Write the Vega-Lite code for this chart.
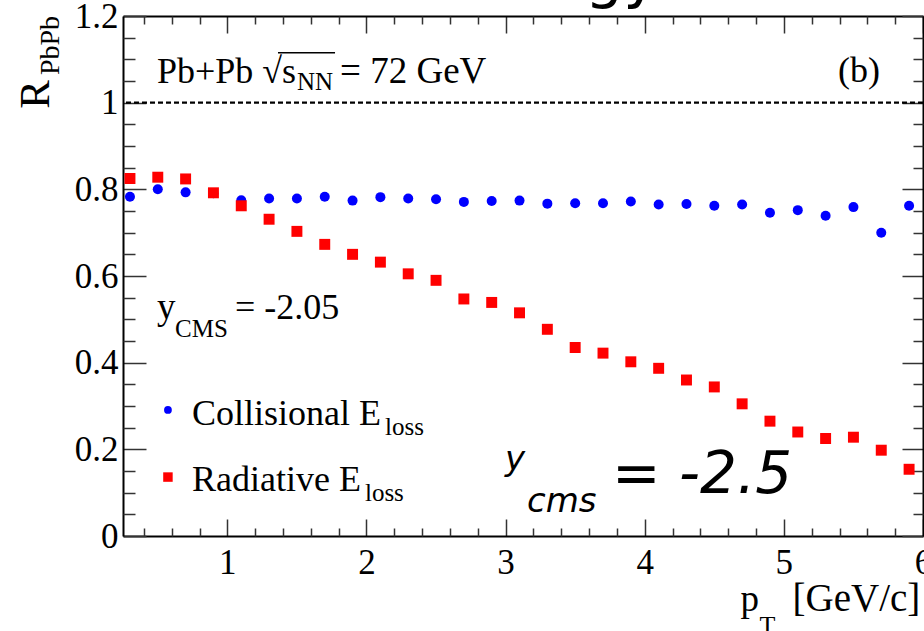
{
  "$schema": "https://vega.github.io/schema/vega-lite/v6.json",
  "width": 800,
  "height": 520,
  "autosize": "none",
  "padding": {"left": 123, "top": 16, "right": 1, "bottom": 95},
  "background": "white",
  "config": {
    "view": {"stroke": null},
    "font": "Liberation Serif",
    "axis": {
      "grid": false,
      "labelFont": "Liberation Serif",
      "labelFontSize": 35,
      "labelColor": "black",
      "labelFlush": false,
      "labelOverlap": false,
      "tickColor": "#333",
      "tickWidth": 1.5,
      "domainColor": "black",
      "domainWidth": 2,
      "titleFont": "Liberation Serif",
      "titleColor": "black",
      "titleFontWeight": "normal",
      "titleBaseline": "alphabetic"
    }
  },
  "datasets": {
    "pts": [
      {"pt": 0.3, "R": 0.783, "series": "Collisional"},
      {"pt": 0.5, "R": 0.800, "series": "Collisional"},
      {"pt": 0.7, "R": 0.793, "series": "Collisional"},
      {"pt": 0.9, "R": 0.791, "series": "Collisional"},
      {"pt": 1.1, "R": 0.775, "series": "Collisional"},
      {"pt": 1.3, "R": 0.779, "series": "Collisional"},
      {"pt": 1.5, "R": 0.779, "series": "Collisional"},
      {"pt": 1.7, "R": 0.783, "series": "Collisional"},
      {"pt": 1.9, "R": 0.774, "series": "Collisional"},
      {"pt": 2.1, "R": 0.782, "series": "Collisional"},
      {"pt": 2.3, "R": 0.779, "series": "Collisional"},
      {"pt": 2.5, "R": 0.777, "series": "Collisional"},
      {"pt": 2.7, "R": 0.771, "series": "Collisional"},
      {"pt": 2.9, "R": 0.773, "series": "Collisional"},
      {"pt": 3.1, "R": 0.774, "series": "Collisional"},
      {"pt": 3.3, "R": 0.767, "series": "Collisional"},
      {"pt": 3.5, "R": 0.768, "series": "Collisional"},
      {"pt": 3.7, "R": 0.768, "series": "Collisional"},
      {"pt": 3.9, "R": 0.772, "series": "Collisional"},
      {"pt": 4.1, "R": 0.765, "series": "Collisional"},
      {"pt": 4.3, "R": 0.766, "series": "Collisional"},
      {"pt": 4.5, "R": 0.762, "series": "Collisional"},
      {"pt": 4.7, "R": 0.765, "series": "Collisional"},
      {"pt": 4.9, "R": 0.746, "series": "Collisional"},
      {"pt": 5.1, "R": 0.752, "series": "Collisional"},
      {"pt": 5.3, "R": 0.739, "series": "Collisional"},
      {"pt": 5.5, "R": 0.759, "series": "Collisional"},
      {"pt": 5.7, "R": 0.700, "series": "Collisional"},
      {"pt": 5.9, "R": 0.762, "series": "Collisional"},
      {"pt": 0.3, "R": 0.825, "series": "Radiative"},
      {"pt": 0.5, "R": 0.828, "series": "Radiative"},
      {"pt": 0.7, "R": 0.824, "series": "Radiative"},
      {"pt": 0.9, "R": 0.792, "series": "Radiative"},
      {"pt": 1.1, "R": 0.762, "series": "Radiative"},
      {"pt": 1.3, "R": 0.731, "series": "Radiative"},
      {"pt": 1.5, "R": 0.703, "series": "Radiative"},
      {"pt": 1.7, "R": 0.673, "series": "Radiative"},
      {"pt": 1.9, "R": 0.650, "series": "Radiative"},
      {"pt": 2.1, "R": 0.632, "series": "Radiative"},
      {"pt": 2.3, "R": 0.605, "series": "Radiative"},
      {"pt": 2.5, "R": 0.590, "series": "Radiative"},
      {"pt": 2.7, "R": 0.547, "series": "Radiative"},
      {"pt": 2.9, "R": 0.539, "series": "Radiative"},
      {"pt": 3.1, "R": 0.515, "series": "Radiative"},
      {"pt": 3.3, "R": 0.477, "series": "Radiative"},
      {"pt": 3.5, "R": 0.435, "series": "Radiative"},
      {"pt": 3.7, "R": 0.422, "series": "Radiative"},
      {"pt": 3.9, "R": 0.402, "series": "Radiative"},
      {"pt": 4.1, "R": 0.387, "series": "Radiative"},
      {"pt": 4.3, "R": 0.360, "series": "Radiative"},
      {"pt": 4.5, "R": 0.344, "series": "Radiative"},
      {"pt": 4.7, "R": 0.305, "series": "Radiative"},
      {"pt": 4.9, "R": 0.265, "series": "Radiative"},
      {"pt": 5.1, "R": 0.240, "series": "Radiative"},
      {"pt": 5.3, "R": 0.225, "series": "Radiative"},
      {"pt": 5.5, "R": 0.228, "series": "Radiative"},
      {"pt": 5.7, "R": 0.198, "series": "Radiative"},
      {"pt": 5.9, "R": 0.154, "series": "Radiative"}
    ]
  },
  "resolve": {"axis": {"x": "independent", "y": "independent"}},
  "layer": [
    {
      "data": {"values": [{}]},
      "mark": {"type": "rule", "strokeDash": [5, 3], "strokeWidth": 2.2, "color": "black"},
      "encoding": {
        "y": {"datum": 1, "type": "quantitative", "scale": {"domain": [0, 1.2], "nice": false, "zero": false}, "axis": null}
      }
    },
    {
      "data": {"name": "pts"},
      "transform": [{"filter": "datum.series === 'Collisional'"}],
      "mark": {"type": "point", "shape": "circle", "filled": true, "color": "#0000ff", "opacity": 1, "size": 100, "strokeWidth": 0},
      "encoding": {
        "x": {"field": "pt", "type": "quantitative", "scale": {"domain": [0.25, 6], "nice": false, "zero": false},
          "axis": {"orient": "bottom", "values": [1, 2, 3, 4, 5, 6], "format": "~g", "labelFont": "Liberation Serif", "labelFontSize": 35, "tickSize": -17, "labelPadding": 26, "title": "p", "titleFontSize": 37, "titleX": 617, "titleY": 74, "titleAlign": "left", "titleAngle": 0}},
        "y": {"field": "R", "type": "quantitative", "scale": {"domain": [0, 1.2], "nice": false, "zero": false},
          "axis": {"orient": "left", "values": [0, 0.2, 0.4, 0.6, 0.8, 1, 1.2], "format": "~g", "labelFont": "Liberation Serif", "labelFontSize": 35, "tickSize": -23, "labelPadding": 28, "title": "R", "titleFontSize": 43, "titleX": -75, "titleY": 78, "titleAlign": "center", "titleAngle": 270}}
      }
    },
    {
      "data": {"name": "pts"},
      "transform": [{"filter": "datum.series === 'Radiative'"}],
      "mark": {"type": "point", "shape": "square", "filled": true, "color": "#ff0000", "opacity": 1, "size": 120, "strokeWidth": 0},
      "encoding": {
        "x": {"field": "pt", "type": "quantitative", "scale": {"domain": [0.25, 6], "nice": false, "zero": false},
          "axis": {"orient": "bottom", "values": [0.4, 0.6, 0.8, 1.2, 1.4, 1.6, 1.8, 2.2, 2.4, 2.6, 2.8, 3.2, 3.4, 3.6, 3.8, 4.2, 4.4, 4.6, 4.8, 5.2, 5.4, 5.6, 5.8], "labels": false, "domain": false, "tickSize": -8, "title": "T", "titleFontSize": 26, "titleX": 636, "titleY": 97, "titleAlign": "left", "titleAngle": 0}},
        "y": {"field": "R", "type": "quantitative", "scale": {"domain": [0, 1.2], "nice": false, "zero": false},
          "axis": {"orient": "left", "values": [0.05, 0.1, 0.15, 0.25, 0.3, 0.35, 0.45, 0.5, 0.55, 0.65, 0.7, 0.75, 0.85, 0.9, 0.95, 1.05, 1.1, 1.15], "labels": false, "domain": false, "tickSize": -12, "title": "PbPb", "titleFontSize": 28, "titleX": -65, "titleY": 29, "titleAlign": "center", "titleAngle": 270}}
      }
    },
    {
      "data": {"values": [{}]},
      "mark": {"type": "text", "text": "(b)", "font": "Liberation Serif", "fontSize": 36, "align": "right", "baseline": "alphabetic", "color": "black"},
      "encoding": {
        "x": {"datum": 5.691, "type": "quantitative", "scale": {"domain": [0.25, 6], "nice": false, "zero": false},
          "axis": {"orient": "top", "values": [1, 2, 3, 4, 5, 6], "labels": false, "tickSize": -17, "title": "[GeV/c]", "titleFontSize": 39, "titleX": 669, "titleY": 594, "titleAlign": "left", "titleAngle": 0}},
        "y": {"datum": 1.048, "type": "quantitative", "scale": {"domain": [0, 1.2], "nice": false, "zero": false},
          "axis": {"orient": "right", "values": [0, 0.2, 0.4, 0.6, 0.8, 1, 1.2], "labels": false, "tickSize": -21, "title": null}}
      }
    },
    {
      "data": {"values": [{}]},
      "mark": {"type": "text", "text": "Pb+Pb √s", "font": "Liberation Serif", "fontSize": 36, "align": "left", "baseline": "alphabetic", "color": "black"},
      "encoding": {
        "x": {"datum": 0.494, "type": "quantitative", "scale": {"domain": [0.25, 6], "nice": false, "zero": false},
          "axis": {"orient": "top", "values": [0.4, 0.6, 0.8, 1.2, 1.4, 1.6, 1.8, 2.2, 2.4, 2.6, 2.8, 3.2, 3.4, 3.6, 3.8, 4.2, 4.4, 4.6, 4.8, 5.2, 5.4, 5.6, 5.8], "labels": false, "domain": false, "tickSize": -8, "title": null}},
        "y": {"datum": 1.046, "type": "quantitative", "scale": {"domain": [0, 1.2], "nice": false, "zero": false},
          "axis": {"orient": "right", "values": [0.05, 0.1, 0.15, 0.25, 0.3, 0.35, 0.45, 0.5, 0.55, 0.65, 0.7, 0.75, 0.85, 0.9, 0.95, 1.05, 1.1, 1.15], "labels": false, "domain": false, "tickSize": -10, "title": null}}
      }
    },
    {
      "data": {"values": [{}]},
      "mark": {"type": "text", "text": "NN", "font": "Liberation Serif", "fontSize": 25, "align": "left", "baseline": "alphabetic", "color": "black"},
      "encoding": {
        "x": {"datum": 1.5006, "type": "quantitative", "scale": {"domain": [0.25, 6], "nice": false, "zero": false}, "axis": null},
        "y": {"datum": 1.029, "type": "quantitative", "scale": {"domain": [0, 1.2], "nice": false, "zero": false}, "axis": null}
      }
    },
    {
      "data": {"values": [{}]},
      "mark": {"type": "rule", "strokeWidth": 1.5, "color": "black"},
      "encoding": {
        "x": {"datum": 1.364, "type": "quantitative", "scale": {"domain": [0.25, 6], "nice": false, "zero": false}, "axis": null},
        "x2": {"datum": 1.774},
        "y": {"datum": 1.1153, "type": "quantitative", "scale": {"domain": [0, 1.2], "nice": false, "zero": false}, "axis": null}
      }
    },
    {
      "data": {"values": [{}]},
      "mark": {"type": "text", "text": "= 72 GeV", "font": "Liberation Serif", "fontSize": 37, "align": "left", "baseline": "alphabetic", "color": "black"},
      "encoding": {
        "x": {"datum": 1.81, "type": "quantitative", "scale": {"domain": [0.25, 6], "nice": false, "zero": false}, "axis": null},
        "y": {"datum": 1.046, "type": "quantitative", "scale": {"domain": [0, 1.2], "nice": false, "zero": false}, "axis": null}
      }
    },
    {
      "data": {"values": [{}]},
      "mark": {"type": "text", "text": "y", "font": "Liberation Serif", "fontSize": 37, "align": "left", "baseline": "alphabetic", "color": "black"},
      "encoding": {
        "x": {"datum": 0.494, "type": "quantitative", "scale": {"domain": [0.25, 6], "nice": false, "zero": false}, "axis": null},
        "y": {"datum": 0.5008, "type": "quantitative", "scale": {"domain": [0, 1.2], "nice": false, "zero": false}, "axis": null}
      }
    },
    {
      "data": {"values": [{}]},
      "mark": {"type": "text", "text": "CMS", "font": "Liberation Serif", "fontSize": 25, "align": "left", "baseline": "alphabetic", "color": "black"},
      "encoding": {
        "x": {"datum": 0.624, "type": "quantitative", "scale": {"domain": [0.25, 6], "nice": false, "zero": false}, "axis": null},
        "y": {"datum": 0.459, "type": "quantitative", "scale": {"domain": [0, 1.2], "nice": false, "zero": false}, "axis": null}
      }
    },
    {
      "data": {"values": [{}]},
      "mark": {"type": "text", "text": "= -2.05", "font": "Liberation Serif", "fontSize": 36, "align": "left", "baseline": "alphabetic", "color": "black"},
      "encoding": {
        "x": {"datum": 1.055, "type": "quantitative", "scale": {"domain": [0.25, 6], "nice": false, "zero": false}, "axis": null},
        "y": {"datum": 0.5008, "type": "quantitative", "scale": {"domain": [0, 1.2], "nice": false, "zero": false}, "axis": null}
      }
    },
    {
      "data": {"values": [{}]},
      "mark": {"type": "point", "shape": "circle", "filled": true, "color": "#0000ff", "opacity": 1, "size": 60, "strokeWidth": 0},
      "encoding": {
        "x": {"datum": 0.573, "type": "quantitative", "scale": {"domain": [0.25, 6], "nice": false, "zero": false}, "axis": null},
        "y": {"datum": 0.291, "type": "quantitative", "scale": {"domain": [0, 1.2], "nice": false, "zero": false}, "axis": null}
      }
    },
    {
      "data": {"values": [{}]},
      "mark": {"type": "point", "shape": "square", "filled": true, "color": "#ff0000", "opacity": 1, "size": 90, "strokeWidth": 0},
      "encoding": {
        "x": {"datum": 0.573, "type": "quantitative", "scale": {"domain": [0.25, 6], "nice": false, "zero": false}, "axis": null},
        "y": {"datum": 0.136, "type": "quantitative", "scale": {"domain": [0, 1.2], "nice": false, "zero": false}, "axis": null}
      }
    },
    {
      "data": {"values": [{}]},
      "mark": {"type": "text", "text": "Collisional E", "font": "Liberation Serif", "fontSize": 36, "align": "left", "baseline": "alphabetic", "color": "black"},
      "encoding": {
        "x": {"datum": 0.746, "type": "quantitative", "scale": {"domain": [0.25, 6], "nice": false, "zero": false}, "axis": null},
        "y": {"datum": 0.256, "type": "quantitative", "scale": {"domain": [0, 1.2], "nice": false, "zero": false}, "axis": null}
      }
    },
    {
      "data": {"values": [{}]},
      "mark": {"type": "text", "text": "loss", "font": "Liberation Serif", "fontSize": 25, "align": "left", "baseline": "alphabetic", "color": "black"},
      "encoding": {
        "x": {"datum": 2.133, "type": "quantitative", "scale": {"domain": [0.25, 6], "nice": false, "zero": false}, "axis": null},
        "y": {"datum": 0.233, "type": "quantitative", "scale": {"domain": [0, 1.2], "nice": false, "zero": false}, "axis": null}
      }
    },
    {
      "data": {"values": [{}]},
      "mark": {"type": "text", "text": "Radiative E", "font": "Liberation Serif", "fontSize": 36, "align": "left", "baseline": "alphabetic", "color": "black"},
      "encoding": {
        "x": {"datum": 0.746, "type": "quantitative", "scale": {"domain": [0.25, 6], "nice": false, "zero": false}, "axis": null},
        "y": {"datum": 0.1046, "type": "quantitative", "scale": {"domain": [0, 1.2], "nice": false, "zero": false}, "axis": null}
      }
    },
    {
      "data": {"values": [{}]},
      "mark": {"type": "text", "text": "loss", "font": "Liberation Serif", "fontSize": 25, "align": "left", "baseline": "alphabetic", "color": "black"},
      "encoding": {
        "x": {"datum": 1.989, "type": "quantitative", "scale": {"domain": [0.25, 6], "nice": false, "zero": false}, "axis": null},
        "y": {"datum": 0.0815, "type": "quantitative", "scale": {"domain": [0, 1.2], "nice": false, "zero": false}, "axis": null}
      }
    },
    {
      "data": {"values": [{}]},
      "mark": {"type": "text", "text": "y", "font": "DejaVu Sans", "fontStyle": "italic", "fontSize": 34, "align": "left", "baseline": "alphabetic", "color": "black"},
      "encoding": {
        "x": {"datum": 2.996, "type": "quantitative", "scale": {"domain": [0.25, 6], "nice": false, "zero": false}, "axis": null},
        "y": {"datum": 0.152, "type": "quantitative", "scale": {"domain": [0, 1.2], "nice": false, "zero": false}, "axis": null}
      }
    },
    {
      "data": {"values": [{}]},
      "mark": {"type": "text", "text": "cms", "font": "DejaVu Sans", "fontStyle": "italic", "fontSize": 34, "align": "left", "baseline": "alphabetic", "color": "black"},
      "encoding": {
        "x": {"datum": 3.154, "type": "quantitative", "scale": {"domain": [0.25, 6], "nice": false, "zero": false}, "axis": null},
        "y": {"datum": 0.0554, "type": "quantitative", "scale": {"domain": [0, 1.2], "nice": false, "zero": false}, "axis": null}
      }
    },
    {
      "data": {"values": [{}]},
      "mark": {"type": "text", "text": "= -2.5", "font": "DejaVu Sans", "fontStyle": "italic", "fontSize": 58, "align": "left", "baseline": "alphabetic", "color": "black"},
      "encoding": {
        "x": {"datum": 3.765, "type": "quantitative", "scale": {"domain": [0.25, 6], "nice": false, "zero": false}, "axis": null},
        "y": {"datum": 0.0992, "type": "quantitative", "scale": {"domain": [0, 1.2], "nice": false, "zero": false}, "axis": null}
      }
    },
    {
      "data": {"values": [{}]},
      "mark": {"type": "text", "text": "gy", "font": "DejaVu Sans", "fontSize": 60, "align": "left", "baseline": "alphabetic", "color": "black"},
      "encoding": {
        "x": {"datum": 3.571, "type": "quantitative", "scale": {"domain": [0.25, 6], "nice": false, "zero": false}, "axis": null},
        "y": {"datum": 1.246, "type": "quantitative", "scale": {"domain": [0, 1.2], "nice": false, "zero": false}, "axis": null}
      }
    }
  ]
}
